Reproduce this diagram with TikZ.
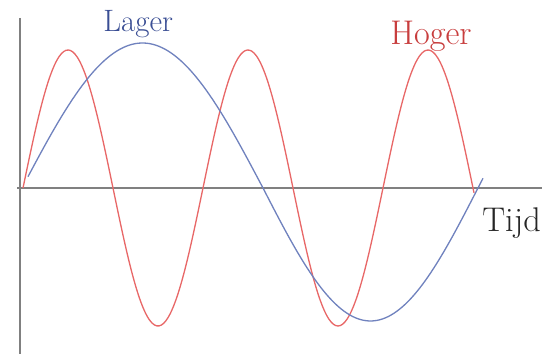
\documentclass[tikz,border=0pt]{standalone}
\usetikzlibrary{positioning}

\definecolor{lagerblue}{RGB}{58,78,148}
\definecolor{lagerline}{RGB}{112,130,190}
\definecolor{hogerred}{RGB}{200,62,62}
\definecolor{hogerline}{RGB}{232,104,104}
\definecolor{axisgray}{RGB}{128,128,128}

\begin{document}
\begin{tikzpicture}[
        x=0.02cm,
        y=-0.02cm,
        axis/.style={
            draw=axisgray,
            line width=1.1pt
        },
        wave/.style={
            line width=0.75pt,
            line join=round
        },
        label/.style={
            inner sep=0pt,
            anchor=base west
        }
    ]

    \useasboundingbox (0,0) rectangle (542,354);

    % axes
    \coordinate (top) at (20,18);
    \coordinate (bottom) at (20,354);
    \coordinate (left) at (17,188);
    \coordinate (right) at (542,188);
    \draw[axis] (top) -- (bottom);
    \draw[axis] (left) -- (right);

    % hoge toon
    \draw[wave, hogerline] plot[domain=23:474, samples=200, smooth]
        (\x, {188 - 138*sin(2*(\x-23))});

    % lage toon (180/241 and 180/215 degrees per px)
    \draw[wave, lagerline]
        plot[domain=28:263, samples=80, smooth]
            (\x, {188 - 145*sin(0.74689*(\x-22))})
        -- plot[domain=263:483, samples=80, smooth]
            (\x, {188 + 133*sin(0.83721*(\x-263))});

    \node[label, text=lagerblue, font=\fontsize{17.6}{20}\selectfont]
        (lager) at (103,32) {Lager};
    \node[label, text=hogerred, font=\fontsize{19.5}{22}\selectfont]
        (hoger) at (390,45) {Hoger};
    \node[label, text=black!85, font=\fontsize{19.5}{22}\selectfont]
        (tijd) at (482,232) {Tijd};

\end{tikzpicture}
\end{document}
